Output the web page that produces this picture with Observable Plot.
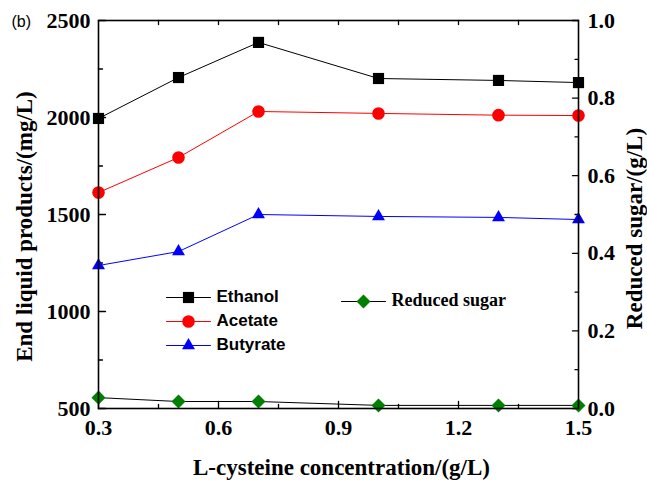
<!DOCTYPE html>
<html>
<head>
<meta charset="utf-8">
<script src="https://cdn.jsdelivr.net/npm/d3@7"></script>
<script src="https://cdn.jsdelivr.net/npm/@observablehq/plot@0.6"></script>
<style>
  body { margin: 0; background: #fff; }
  #chart svg { display: block; }
</style>
</head>
<body>
<div id="chart"></div>
<script>
// L-cysteine concentration (g/L)
const concentration = [0.3, 0.5, 0.7, 1.0, 1.3, 1.5];
// End liquid products (mg/L)
const ethanol  = [1995, 2206, 2387, 2201, 2191, 2180];
const acetate  = [1613, 1794, 2031, 2021, 2012, 2010];
const butyrate = [1237, 1309, 1500, 1490, 1485, 1474];
// Residual reduced sugar (g/L), right axis
const reducedSugar = [0.028, 0.018, 0.018, 0.008, 0.008, 0.008];

const xTicks = [0.3, 0.6, 0.9, 1.2, 1.5];
const xMinorTicks = [0.45, 0.75, 1.05, 1.35];
const xTopTicks = [0.45, 0.6, 0.75, 0.9, 1.05, 1.2, 1.35];
const yTicks = [500, 1000, 1500, 2000, 2500];
const yMinorTicks = [750, 1250, 1750, 2250];
const sugarTicks = [0.0, 0.2, 0.4, 0.6, 0.8, 1.0];
const sugarMinorTicks = [0.1, 0.3, 0.5, 0.7, 0.9];

// right axis [0, 1] g/L shares the left axis range [500, 2500] mg/L
const sugarDomain = [0, 1];
const yDomain = [500, 2500];
const sugarToY = v => yDomain[0] + (v - sugarDomain[0]) / (sugarDomain[1] - sugarDomain[0]) * (yDomain[1] - yDomain[0]);

const rows = (ys) => concentration.map((x, i) => ({x, y: ys[i]}));
const ethanolRows = rows(ethanol);
const acetateRows = rows(acetate);
const butyrateRows = rows(butyrate);
const sugarRows = rows(reducedSugar.map(sugarToY));

// plain tick segment (no arrow head) for inward ticks
const tickLine = {draw(ctx, l) { ctx.moveTo(0, 0); ctx.lineTo(0, -l); }};

const serif = "Liberation Serif, Times New Roman, serif";
const sans = "Liberation Sans, Arial, sans-serif";

const series = [
  {name: "Ethanol",  data: ethanolRows,  color: "#000000", symbol: "square",   r: 6.3},
  {name: "Acetate",  data: acetateRows,  color: "#ff0000", symbol: "circle",   r: 6.3},
  {name: "Butyrate", data: butyrateRows, color: "#0000ff", symbol: "triangle", r: 4.8}
];
const sugarSeries = {name: "Reduced sugar", color: "#008000", line: "#000000"};

const marks = [];

// tick labels
const tickFont = {fontFamily: serif, fontWeight: "bold", fontSize: 22, label: null};
marks.push(Plot.axisX({ticks: xTicks, tickSize: 0, tickPadding: 11, tickFormat: d => d.toFixed(1), anchor: "bottom", ...tickFont}));
marks.push(Plot.axisY({ticks: yTicks, tickSize: 0, tickPadding: 8, tickFormat: d => String(d), anchor: "left", ...tickFont}));
marks.push(Plot.axisY({ticks: sugarTicks.map(sugarToY), tickSize: 0, tickPadding: 9,
  tickFormat: (d, i) => sugarTicks[i].toFixed(1), anchor: "right", ...tickFont}));

// inward tick marks
const ticks = (data, opts) => Plot.vector(data, {anchor: "start", shape: tickLine, stroke: "#000", strokeWidth: 1.3, ...opts});
marks.push(ticks(xTicks, {x: d => d, frameAnchor: "bottom", rotate: 0, length: 7}));
marks.push(ticks(xMinorTicks, {x: d => d, frameAnchor: "bottom", rotate: 0, length: 4}));
marks.push(ticks(xTopTicks, {x: d => d, frameAnchor: "top", rotate: 180, length: 4}));
marks.push(ticks(yTicks, {y: d => d, frameAnchor: "left", rotate: 90, length: 7}));
marks.push(ticks(yMinorTicks, {y: d => d, frameAnchor: "left", rotate: 90, length: 4}));
marks.push(ticks(sugarTicks.map(sugarToY), {y: d => d, frameAnchor: "right", rotate: -90, length: 6}));
marks.push(ticks(sugarMinorTicks.map(sugarToY), {y: d => d, frameAnchor: "right", rotate: -90, length: 3.5}));

// series
for (const s of series) {
  marks.push(Plot.line(s.data, {x: "x", y: "y", stroke: s.color, strokeWidth: 1}));
  marks.push(Plot.dot(s.data, {x: "x", y: "y", symbol: () => s.symbol, r: s.r, fill: s.color, stroke: "none"}));
}
marks.push(Plot.line(sugarRows, {x: "x", y: "y", stroke: sugarSeries.line, strokeWidth: 1}));
marks.push(Plot.dot(sugarRows, {x: "x", y: "y", symbol: () => "square", rotate: 45, r: 5.6, fill: sugarSeries.color, stroke: "none"}));

// frame
marks.push(Plot.frame({stroke: "#000", strokeWidth: 1.6}));

// legend (left block)
series.forEach((s, i) => {
  const dy = 277 + i * 24;
  marks.push(Plot.vector([s.name], {frameAnchor: "top-left", dx: 90, dy, rotate: 90, length: 44, anchor: "middle",
    shape: tickLine, stroke: s.color, strokeWidth: 1}));
  marks.push(Plot.dot([s.name], {frameAnchor: "top-left", dx: 90, dy, symbol: () => s.symbol, r: s.r, fill: s.color, stroke: "none"}));
  marks.push(Plot.text([s.name], {frameAnchor: "top-left", dx: 118, dy: dy - 1, text: d => d, textAnchor: "start", lineAnchor: "middle",
    fontFamily: sans, fontWeight: "bold", fontSize: 17, fill: "#000"}));
});
// legend (reduced sugar)
marks.push(Plot.vector([sugarSeries.name], {frameAnchor: "top-left", dx: 265, dy: 281, rotate: 90, length: 44, anchor: "middle",
  shape: tickLine, stroke: sugarSeries.line, strokeWidth: 1}));
marks.push(Plot.dot([sugarSeries.name], {frameAnchor: "top-left", dx: 265, dy: 281, symbol: () => "square", rotate: 45, r: 5.6,
  fill: sugarSeries.color, stroke: "none"}));
marks.push(Plot.text([sugarSeries.name], {frameAnchor: "top-left", dx: 293, dy: 280, text: d => d, textAnchor: "start", lineAnchor: "middle",
  fontFamily: serif, fontWeight: "bold", fontSize: 18, fill: "#000"}));

// axis titles and panel tag
const titleFont = {fontFamily: serif, fontWeight: "bold", fontSize: 23, fill: "#000", textAnchor: "middle", lineAnchor: "middle"};
marks.push(Plot.text(["L-cysteine concentration/(g/L)"], {frameAnchor: "bottom", dx: 3, dy: 59, text: d => d, ...titleFont}));
marks.push(Plot.text(["End liquid products/(mg/L)"], {frameAnchor: "left", dx: -74, dy: 12, rotate: -90, text: d => d, ...titleFont}));
marks.push(Plot.text(["Reduced sugar/(g/L)"], {frameAnchor: "right", dx: 56, dy: 14, rotate: -90, text: d => d, ...titleFont}));
marks.push(Plot.text(["(b)"], {frameAnchor: "top-left", dx: -87, dy: 1, text: d => d, textAnchor: "start", lineAnchor: "middle",
  fontFamily: sans, fontSize: 16, fill: "#000"}));

const chart = Plot.plot({
  width: 647,
  height: 484,
  marginLeft: 98,
  marginRight: 69,
  marginTop: 20,
  marginBottom: 76,
  x: {domain: [0.3, 1.5], axis: null},
  y: {domain: yDomain, axis: null},
  style: {background: "#fff", overflow: "visible"},
  marks
});
document.getElementById("chart").appendChild(chart);
</script>
</body>
</html>
